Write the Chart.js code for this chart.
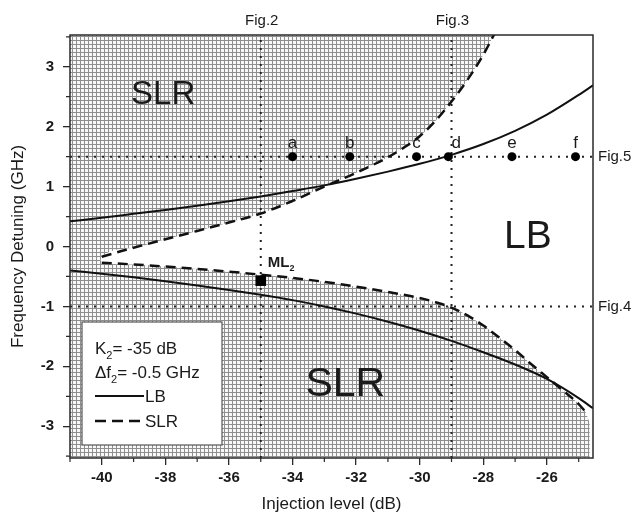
<!DOCTYPE html>
<html>
<head>
<meta charset="utf-8">
<script src="https://cdn.jsdelivr.net/npm/chart.js@4.4.1/dist/chart.umd.min.js"></script>
<style>
  body { margin: 0; background: #fff; }
  #wrap { width: 639px; height: 515px; position: relative; }
</style>
</head>
<body>
<div id="wrap"><canvas id="chart-map"></canvas></div>
<script>
/* =====================
   DATA
===================== */

// locking boundary (solid)
const lbX     = [-41, -40, -39, -38, -37, -36, -35, -34, -33, -32, -31, -30, -29, -28, -27, -26, -25, -24.55];
const lbUpper = [0.42, 0.48, 0.545, 0.61, 0.68, 0.755, 0.835, 0.925, 1.02, 1.13, 1.25, 1.38, 1.53, 1.71, 1.93, 2.20, 2.53, 2.69];
const lbLower = [-0.40, -0.455, -0.515, -0.58, -0.65, -0.725, -0.805, -0.895, -1.00, -1.12, -1.255, -1.405, -1.575, -1.765, -1.97, -2.21, -2.53, -2.70];

// SLR boundary (dashed)
const slrUpperX = [-40, -39, -38, -37, -36, -35, -34, -33, -32, -31, -30.5, -30, -29.5, -29, -28.5, -28, -27.6];
const slrUpper  = [-0.17, -0.02, 0.12, 0.26, 0.40, 0.55, 0.76, 1.00, 1.23, 1.49, 1.65, 1.84, 2.10, 2.42, 2.78, 3.20, 3.60];
const slrLowerX = [-40, -39, -38, -37, -36, -35, -34, -33, -32, -31, -30, -29.5, -29, -28.5, -28, -27.5, -27, -26.5, -26, -25.5, -25, -24.8];
const slrLower  = [-0.27, -0.30, -0.335, -0.375, -0.42, -0.47, -0.525, -0.59, -0.67, -0.76, -0.86, -0.93, -1.02, -1.15, -1.32, -1.52, -1.73, -1.96, -2.18, -2.40, -2.63, -2.75];

// shaded SLR regions (edges of the hatched area)
const shadeUpperX = [-41, -40.1, ...slrUpperX];
const shadeUpper  = [-0.32, -0.32, ...slrUpper];
const shadeLowerX = [-41, -40.1, ...slrLowerX, -24.65];
const shadeLower  = [-0.15, -0.15, ...slrLower, -2.95];

// operating points on the Fig.5 line
const ptX      = [-34, -32.2, -30.1, -29.1, -27.1, -25.1];
const ptY      = 1.5;
const ptLabels = ['a', 'b', 'c', 'd', 'e', 'f'];

const mlX = -35;
const mlY = -0.57;

// dotted reference lines
const figX       = [-35, -29];
const figXLabels = ['Fig.2', 'Fig.3'];
const figY       = [1.5, -1];
const figYLabels = ['Fig.5', 'Fig.4'];

const xMin = -41, xMax = -24.55;
const yMin = -3.53, yMax = 3.53;
const xTicks = [-40, -38, -36, -34, -32, -30, -28, -26];
const yTicks = [-3, -2, -1, 0, 1, 2, 3];

/* =====================
   HELPERS
===================== */

const toPts = (xs, ys) => xs.map((v, i) => ({ x: v, y: ys[i] }));

const hatch = (() => {
    const c = document.createElement('canvas');
    c.width = 4; c.height = 4;
    const g = c.getContext('2d');
    g.fillStyle = '#f8f8f8';
    g.fillRect(0, 0, 4, 4);
    g.fillStyle = '#8f8f8f';
    g.fillRect(0, 0, 4, 1);
    g.fillRect(0, 0, 1, 4);
    return g.createPattern(c, 'repeat');
})();

const FONT = '"Liberation Sans", Arial, sans-serif';
Chart.defaults.font.family = FONT;
Chart.defaults.color = '#1a1a1a';

function subText(ctx, main, sub, x, y, size, bold) {
    const w = bold ? 'bold ' : '';
    ctx.font = w + size + 'px ' + FONT;
    ctx.textAlign = 'left';
    ctx.textBaseline = 'alphabetic';
    ctx.fillText(main, x, y);
    const mw = ctx.measureText(main).width;
    ctx.font = w + Math.round(size * 0.62) + 'px ' + FONT;
    ctx.fillText(sub, x + mw, y + size * 0.3);
    return mw + ctx.measureText(sub).width;
}

/* =====================
   ANNOTATIONS
===================== */

const annotations = {
    id: 'annotations',
    afterDatasetsDraw(chart) {
        const { ctx, chartArea: a, scales: { x, y } } = chart;
        ctx.save();

        // frame
        ctx.strokeStyle = '#2a2a2a';
        ctx.lineWidth = 1.5;
        ctx.strokeRect(a.left, a.top, a.right - a.left, a.bottom - a.top);

        // minor ticks
        ctx.lineWidth = 1.2;
        ctx.beginPath();
        for (let v = -41; v <= -25; v += 2) {
            const px = x.getPixelForValue(v);
            ctx.moveTo(px, a.bottom); ctx.lineTo(px, a.bottom + 4);
        }
        for (let v = -3.5; v <= 3.5; v += 1) {
            const py = y.getPixelForValue(v);
            ctx.moveTo(a.left, py); ctx.lineTo(a.left - 4, py);
        }
        ctx.stroke();

        ctx.fillStyle = '#1a1a1a';

        // point letters
        ctx.font = '17px ' + FONT;
        ctx.textAlign = 'center';
        ctx.textBaseline = 'alphabetic';
        ptLabels.forEach((t, i) => {
            const dx = t === 'd' ? 8 : 0;
            ctx.fillText(t, x.getPixelForValue(ptX[i]) + dx, y.getPixelForValue(ptY) - 9);
        });

        // Fig labels
        ctx.font = '15px ' + FONT;
        figX.forEach((v, i) => ctx.fillText(figXLabels[i], x.getPixelForValue(v) + 1, a.top - 10));
        ctx.textAlign = 'left';
        ctx.textBaseline = 'middle';
        figY.forEach((v, i) => ctx.fillText(figYLabels[i], a.right + 5, y.getPixelForValue(v)));

        // region names
        ctx.textAlign = 'center';
        ctx.font = '33px ' + FONT;
        ctx.fillText('SLR', x.getPixelForValue(-38.07), y.getPixelForValue(2.53));
        ctx.font = '41px ' + FONT;
        ctx.fillText('SLR', x.getPixelForValue(-32.34), y.getPixelForValue(-2.31));
        ctx.font = '39px ' + FONT;
        ctx.fillText('LB', x.getPixelForValue(-26.6), y.getPixelForValue(0.15));

        // ML2
        subText(ctx, 'ML', '2', x.getPixelForValue(mlX) + 7, y.getPixelForValue(mlY) - 14, 15, true);

        // legend box
        const bx = a.left + 12, by = a.top + 287, bw = 140, bh = 123;
        ctx.fillStyle = '#fff';
        ctx.fillRect(bx, by, bw, bh);
        ctx.strokeStyle = '#555';
        ctx.lineWidth = 1.2;
        ctx.strokeRect(bx, by, bw, bh);

        ctx.fillStyle = '#1a1a1a';
        const lx = bx + 13;
        let w = subText(ctx, 'K', '2', lx, by + 32, 17, false);
        ctx.font = '17px ' + FONT;
        ctx.fillText('= -35 dB', lx + w, by + 32);
        w = subText(ctx, '\u0394f', '2', lx, by + 56, 17, false);
        ctx.font = '17px ' + FONT;
        ctx.fillText('= -0.5 GHz', lx + w, by + 56);

        ctx.strokeStyle = '#111';
        ctx.lineWidth = 2;
        ctx.beginPath();
        ctx.moveTo(lx, by + 74); ctx.lineTo(lx + 49, by + 74);
        ctx.stroke();
        ctx.setLineDash([11, 6]);
        ctx.lineWidth = 2.5;
        ctx.beginPath();
        ctx.moveTo(lx, by + 99); ctx.lineTo(lx + 49, by + 99);
        ctx.stroke();
        ctx.setLineDash([]);

        ctx.font = '17px ' + FONT;
        ctx.textAlign = 'left';
        ctx.textBaseline = 'alphabetic';
        ctx.fillText(chart.data.datasets[2].label, lx + 50, by + 80);
        ctx.fillText(chart.data.datasets[4].label, lx + 50, by + 105);

        ctx.restore();
    }
};

/* =====================
   CREATE CHART
===================== */

const dotted = (pts) => ({
    data: pts,
    borderColor: '#222',
    borderWidth: 2,
    borderDash: [2, 6],
    pointRadius: 0,
    tension: 0,
    fill: false,
    order: 3
});

const curve = (label, pts, dash, width) => ({
    label: label,
    data: pts,
    borderColor: '#111',
    borderWidth: width,
    borderDash: dash,
    pointRadius: 0,
    cubicInterpolationMode: 'monotone',
    order: 1
});

const ctxMap = document.getElementById('chart-map').getContext('2d');

const chartMap = new Chart(ctxMap, {
    type: 'line',
    data: {
        datasets: [
            {
                label: 'points',
                data: ptX.map(v => ({ x: v, y: ptY })),
                showLine: false,
                pointRadius: 4.5,
                pointBackgroundColor: '#000',
                pointBorderWidth: 0,
                order: 0
            },
            {
                label: 'ML2',
                data: [{ x: mlX, y: mlY }],
                showLine: false,
                pointStyle: 'rect',
                pointRadius: 7.5,
                pointBackgroundColor: '#000',
                pointBorderWidth: 0,
                order: 0
            },
            curve('LB', toPts(lbX, lbUpper), [], 2),
            curve('LB lower', toPts(lbX, lbLower), [], 2),
            curve('SLR', toPts(slrUpperX, slrUpper), [10, 6], 2.5),
            curve('SLR lower', toPts(slrLowerX, slrLower), [10, 6], 2.5),
            dotted([{ x: figX[0], y: yMin }, { x: figX[0], y: yMax }]),
            dotted([{ x: figX[1], y: yMin }, { x: figX[1], y: yMax }]),
            dotted([{ x: xMin, y: figY[0] }, { x: xMax, y: figY[0] }]),
            dotted([{ x: xMin, y: figY[1] }, { x: xMax, y: figY[1] }]),
            {
                label: 'shade upper',
                data: toPts(shadeUpperX, shadeUpper),
                borderWidth: 0,
                pointRadius: 0,
                cubicInterpolationMode: 'monotone',
                backgroundColor: hatch,
                fill: 'end',
                order: 10
            },
            {
                label: 'shade lower',
                data: toPts(shadeLowerX, shadeLower),
                borderWidth: 0,
                pointRadius: 0,
                cubicInterpolationMode: 'monotone',
                backgroundColor: hatch,
                fill: 'start',
                order: 10
            }
        ]
    },
    options: {
        responsive: true,
        maintainAspectRatio: false,
        animation: false,
        events: [],
        layout: { padding: { left: 0, top: 35, right: 46, bottom: 0 } },
        plugins: {
            legend: { display: false },
            tooltip: { enabled: false }
        },
        scales: {
            x: {
                type: 'linear',
                min: xMin,
                max: xMax,
                afterBuildTicks: s => { s.ticks = xTicks.map(v => ({ value: v })); },
                afterFit: s => { s.height = 57; },
                ticks: {
                    font: { size: 15, weight: 'bold' },
                    color: '#1a1a1a',
                    padding: 4,
                    maxRotation: 0
                },
                grid: { drawOnChartArea: false, tickLength: 7, color: '#2a2a2a', lineWidth: 1.3 },
                border: { display: false },
                title: {
                    display: true,
                    text: 'Injection level (dB)',
                    font: { size: 17 },
                    color: '#1a1a1a',
                    padding: 0
                }
            },
            y: {
                type: 'linear',
                min: yMin,
                max: yMax,
                afterBuildTicks: s => { s.ticks = yTicks.map(v => ({ value: v })); },
                afterFit: s => { s.width = 70; },
                ticks: {
                    font: { size: 15, weight: 'bold' },
                    color: '#1a1a1a',
                    padding: 9
                },
                grid: { drawOnChartArea: false, tickLength: 7, color: '#2a2a2a', lineWidth: 1.3 },
                border: { display: false },
                title: {
                    display: true,
                    text: 'Frequency Detuning (GHz)',
                    font: { size: 17 },
                    color: '#1a1a1a',
                    padding: { top: 8, bottom: 0 }
                }
            }
        }
    },
    plugins: [annotations]
});
</script>
</body>
</html>
